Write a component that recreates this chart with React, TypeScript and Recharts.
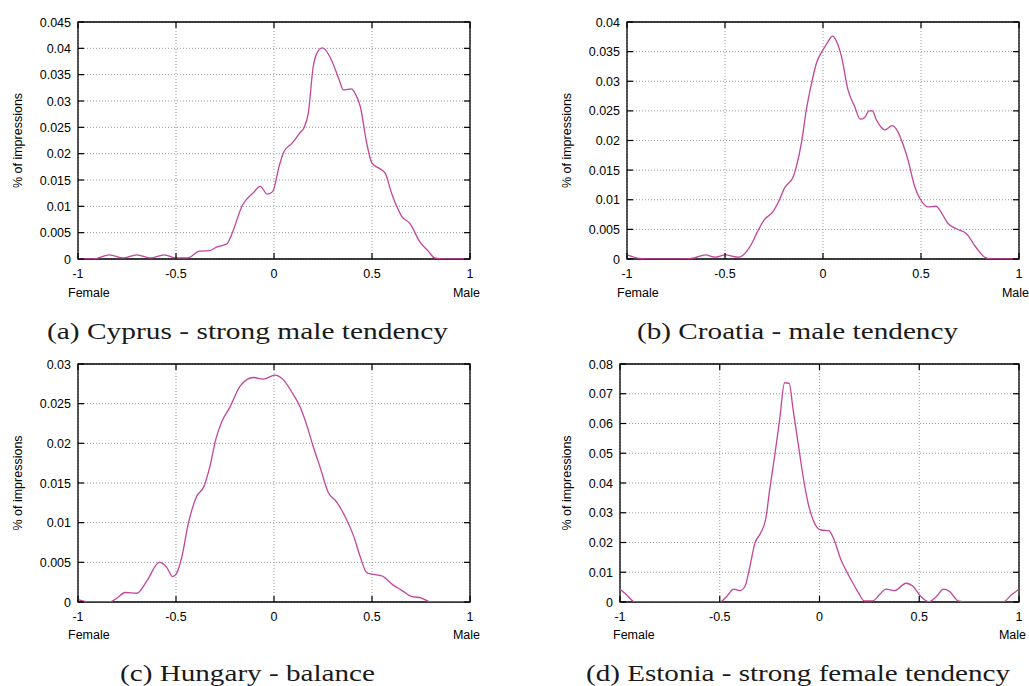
import React from "react";
import { LineChart, Line, XAxis, YAxis, CartesianGrid, ReferenceArea } from "recharts";

// values (score -> share of impressions)
const cyprusX = [-1, -0.92, -0.84, -0.77, -0.7, -0.63, -0.56, -0.5, -0.44, -0.38, -0.33, -0.29, -0.24, -0.22, -0.16, -0.105, -0.07, -0.034, -0.007, 0.027, 0.051, 0.09, 0.133, 0.153, 0.175, 0.2, 0.218, 0.246, 0.26, 0.294, 0.333, 0.354, 0.396, 0.413, 0.44, 0.473, 0.5, 0.533, 0.567, 0.6, 0.626, 0.65, 0.694, 0.745, 0.787, 0.82, 0.864, 1];
const cyprusY = [0, 0, 0.0008, 0.0002, 0.0008, 0.0002, 0.0008, 0.0002, 0.0002, 0.0015, 0.0016, 0.0023, 0.0029, 0.0043, 0.0103, 0.0126, 0.0138, 0.0123, 0.0128, 0.0177, 0.0204, 0.0219, 0.024, 0.0249, 0.0277, 0.0365, 0.039, 0.0401, 0.0398, 0.0377, 0.034, 0.0321, 0.0323, 0.0315, 0.029, 0.022, 0.0182, 0.0173, 0.0163, 0.0125, 0.01, 0.0082, 0.0067, 0.0032, 0.0015, 0.0002, 0, 0];

const croatiaX = [-1, -0.935, -0.88, -0.7, -0.655, -0.6, -0.55, -0.5, -0.43, -0.41, -0.367, -0.333, -0.3, -0.255, -0.221, -0.196, -0.153, -0.136, -0.11, -0.085, -0.06, -0.034, 0, 0.026, 0.048, 0.068, 0.094, 0.128, 0.162, 0.19, 0.213, 0.235, 0.252, 0.272, 0.298, 0.315, 0.354, 0.374, 0.4, 0.434, 0.468, 0.493, 0.536, 0.578, 0.595, 0.638, 0.68, 0.731, 0.782, 0.825, 0.86, 1];
const croatiaY = [0.0007, 0.0001, 0, 0, 0.0002, 0.0007, 0.0003, 0.0007, 0.0003, 0.0006, 0.0024, 0.0047, 0.0066, 0.008, 0.0101, 0.012, 0.0138, 0.0156, 0.0196, 0.0252, 0.0294, 0.033, 0.0353, 0.0367, 0.0376, 0.0368, 0.0342, 0.0285, 0.0257, 0.0236, 0.0239, 0.025, 0.025, 0.0235, 0.0222, 0.0218, 0.0225, 0.0219, 0.0201, 0.0167, 0.0122, 0.0103, 0.0088, 0.0089, 0.0083, 0.006, 0.0051, 0.0043, 0.0019, 0.0003, 0, 0];

const hungaryX = [-1, -0.94, -0.84, -0.8, -0.76, -0.7, -0.65, -0.585, -0.548, -0.517, -0.497, -0.47, -0.437, -0.395, -0.357, -0.327, -0.296, -0.267, -0.224, -0.173, -0.105, -0.054, 0.005, 0.048, 0.09, 0.133, 0.167, 0.2, 0.235, 0.277, 0.32, 0.362, 0.405, 0.44, 0.473, 0.5, 0.55, 0.61, 0.65, 0.7, 0.753, 0.8, 1];
const hungaryY = [0.0003, 0, 0, 0.0005, 0.0012, 0.0011, 0.0026, 0.005, 0.0044, 0.0032, 0.0036, 0.0057, 0.0099, 0.0133, 0.0146, 0.0171, 0.0206, 0.0227, 0.0246, 0.0272, 0.0283, 0.0281, 0.0286, 0.028, 0.0265, 0.0246, 0.0223, 0.0196, 0.017, 0.0138, 0.0126, 0.0108, 0.0084, 0.0057, 0.0037, 0.0035, 0.0033, 0.0021, 0.0015, 0.0007, 0.0005, 0, 0];

const estoniaX = [-1, -0.967, -0.925, -0.5, -0.466, -0.43, -0.4, -0.374, -0.349, -0.324, -0.296, -0.269, -0.25, -0.225, -0.2, -0.175, -0.152, -0.132, -0.107, -0.082, -0.057, -0.032, 0.008, 0.047, 0.07, 0.108, 0.15, 0.192, 0.225, 0.267, 0.3, 0.334, 0.375, 0.434, 0.467, 0.509, 0.548, 0.585, 0.622, 0.652, 0.694, 0.736, 0.92, 0.962, 1];
const estoniaY = [0.0043, 0.0024, 0, 0, 0.0018, 0.0043, 0.0038, 0.0052, 0.0119, 0.0197, 0.0231, 0.0281, 0.0376, 0.0489, 0.0612, 0.0737, 0.0735, 0.0645, 0.0533, 0.0421, 0.0332, 0.0276, 0.0242, 0.024, 0.0214, 0.0141, 0.0085, 0.0035, 0.0004, 0.0004, 0.0024, 0.0043, 0.0038, 0.0063, 0.0054, 0.0018, 0.0001, 0.0018, 0.0043, 0.0035, 0.0004, 0, 0, 0.0024, 0.0043];

const xTicks = [-1, -0.5, 0, 0.5, 1];
const ticks045 = [0, 0.005, 0.01, 0.015, 0.02, 0.025, 0.03, 0.035, 0.04, 0.045];
const ticks04 = [0, 0.005, 0.01, 0.015, 0.02, 0.025, 0.03, 0.035, 0.04];
const ticks03 = [0, 0.005, 0.01, 0.015, 0.02, 0.025, 0.03];
const ticks08 = [0, 0.01, 0.02, 0.03, 0.04, 0.05, 0.06, 0.07, 0.08];

const captions = [
  "(a) Cyprus - strong male tendency",
  "(b) Croatia - male tendency",
  "(c) Hungary - balance",
  "(d) Estonia - strong female tendency",
];

const toRows = (xs: number[], ys: number[]) => xs.map((x, i) => ({ x, v: ys[i] }));

const sans = "'Liberation Sans', Arial, Helvetica, sans-serif";
const lineColor = "#c2459a";
const TICK = 6;

const panels = [
  { key: "a", left: 0, top: 0, width: 490, height: 300, margin: { top: 22, right: 20, bottom: 0, left: 8 }, xh: 41, yTicks: ticks045, data: toRows(cyprusX, cyprusY) },
  { key: "b", left: 540, top: 0, width: 489, height: 300, margin: { top: 22, right: 10, bottom: 0, left: 17 }, xh: 41, yTicks: ticks04, data: toRows(croatiaX, croatiaY) },
  { key: "c", left: 0, top: 330, width: 490, height: 300, margin: { top: 34, right: 20, bottom: 0, left: 8 }, xh: 28, yTicks: ticks03, data: toRows(hungaryX, hungaryY) },
  { key: "d", left: 540, top: 330, width: 489, height: 300, margin: { top: 34, right: 10, bottom: 0, left: 10 }, xh: 28, yTicks: ticks08, data: toRows(estoniaX, estoniaY) },
];

// gnuplot style: tick marks point inwards and are mirrored on the opposite side
function XTick(props: any) {
  const { x, y, payload, plotH } = props;
  return (
    <g>
      <line x1={x} y1={y} x2={x} y2={y - TICK} stroke="#000" strokeWidth={1.2} />
      <line x1={x} y1={y - plotH} x2={x} y2={y - plotH + TICK} stroke="#000" strokeWidth={1.2} />
      <text x={x} y={y + 18.5} textAnchor="middle" fontSize={12.5} fontFamily={sans} fill="#000">
        {String(payload.value)}
      </text>
    </g>
  );
}

function YTick(props: any) {
  const { x, y, payload, plotW } = props;
  return (
    <g>
      <line x1={x} y1={y} x2={x + TICK} y2={y} stroke="#000" strokeWidth={1.2} />
      <line x1={x + plotW - TICK} y1={y} x2={x + plotW} y2={y} stroke="#000" strokeWidth={1.2} />
      <text x={x - 7} y={y + 4.5} textAnchor="end" fontSize={12.5} fontFamily={sans} fill="#000">
        {String(payload.value)}
      </text>
    </g>
  );
}

function Panel({ p }: { p: (typeof panels)[number] }) {
  const yMax = p.yTicks[p.yTicks.length - 1];
  const plotW = p.width - p.margin.left - p.margin.right - 70;
  const plotH = p.height - p.margin.top - p.margin.bottom - p.xh;
  return (
    <div style={{ position: "absolute", left: p.left, top: p.top }}>
      <LineChart width={p.width} height={p.height} data={p.data} margin={p.margin}>
        <CartesianGrid stroke="#9a9a9a" strokeDasharray="1 2" />
        <XAxis dataKey="x" type="number" domain={[-1, 1]} ticks={xTicks} height={p.xh} interval={0}
          tickSize={0} tickMargin={0} axisLine={false} tickLine={false}
          tick={(t: any) => <XTick {...t} plotH={plotH} />} />
        <YAxis type="number" domain={[0, yMax]} ticks={p.yTicks} width={70} interval={0} allowDataOverflow
          tickSize={0} tickMargin={0} axisLine={false} tickLine={false}
          tick={(t: any) => <YTick {...t} plotW={plotW} />} />
        <Line type="monotone" dataKey="v" stroke={lineColor} strokeWidth={1.3}
          dot={false} isAnimationActive={false} />
        <ReferenceArea x1={-1} x2={1} y1={0} y2={yMax} fill="none" stroke="#000" strokeWidth={1.3}
          fillOpacity={0} ifOverflow="visible" />
      </LineChart>
    </div>
  );
}

export default function App() {
  return (
    <div style={{ position: "absolute", left: 0, top: 0, width: 1029, height: 686, background: "#fff", overflow: "hidden" }}>
      {panels.map((p) => (
        <Panel key={p.key} p={p} />
      ))}
      <svg width={1029} height={686} style={{ position: "absolute", left: 0, top: 0, pointerEvents: "none" }}>
        <g fontFamily={sans} fontSize={12.5} fill="#000">
          <text x={18} y={140.5} transform="rotate(-90 18 140.5)" textAnchor="middle" dominantBaseline="central">% of impressions</text>
          <text x={567} y={140.5} transform="rotate(-90 567 140.5)" textAnchor="middle" dominantBaseline="central">% of impressions</text>
          <text x={18} y={483} transform="rotate(-90 18 483)" textAnchor="middle" dominantBaseline="central">% of impressions</text>
          <text x={567} y={483} transform="rotate(-90 567 483)" textAnchor="middle" dominantBaseline="central">% of impressions</text>
          <text x={68} y={296.5}>Female</text>
          <text x={480} y={296.5} textAnchor="end">Male</text>
          <text x={617} y={296.5}>Female</text>
          <text x={1029} y={296.5} textAnchor="end">Male</text>
          <text x={68} y={638.5}>Female</text>
          <text x={480} y={638.5} textAnchor="end">Male</text>
          <text x={613} y={638.5}>Female</text>
          <text x={1026} y={638.5} textAnchor="end">Male</text>
        </g>
        <g fontFamily="'Liberation Serif', 'Times New Roman', serif" fontSize={23} fill="#1a1a1a">
          <text x={47} y={339} textLength={401} lengthAdjust="spacingAndGlyphs">{captions[0]}</text>
          <text x={637} y={339} textLength={321} lengthAdjust="spacingAndGlyphs">{captions[1]}</text>
          <text x={120} y={681} textLength={255} lengthAdjust="spacingAndGlyphs">{captions[2]}</text>
          <text x={586} y={681} textLength={424} lengthAdjust="spacingAndGlyphs">{captions[3]}</text>
        </g>
      </svg>
    </div>
  );
}
